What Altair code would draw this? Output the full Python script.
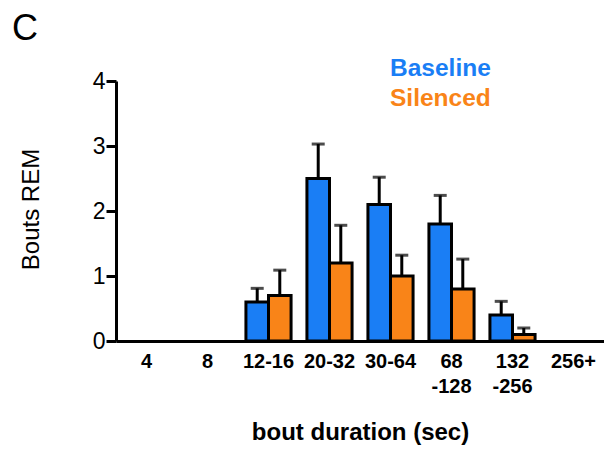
import altair as alt
import pandas as pd

categories = ["4", "8", "12-16", "20-32", "30-64", "68\n-128", "132\n-256", "256+"]
bar_categories = ["12-16", "20-32", "30-64", "68\n-128", "132\n-256"]
groups = ["Baseline", "Silenced"]
baseline_mean = [0.6, 2.5, 2.1, 1.8, 0.4]
baseline_sem = [0.21, 0.53, 0.42, 0.44, 0.21]
silenced_mean = [0.7, 1.2, 1.0, 0.8, 0.1]
silenced_sem = [0.39, 0.58, 0.32, 0.46, 0.1]
colors = ["#1a7ef5", "#f98418"]

rows = []
for c, m, s in zip(bar_categories, baseline_mean, baseline_sem):
    rows.append({"cat": c, "group": "Baseline", "mean": m, "top": m + s})
for c, m, s in zip(bar_categories, silenced_mean, silenced_sem):
    rows.append({"cat": c, "group": "Silenced", "mean": m, "top": m + s})
df = pd.DataFrame(rows)

x_enc = alt.X(
    "cat:N",
    sort=categories,
    scale=alt.Scale(domain=categories, paddingInner=0.26, paddingOuter=0.13),
    axis=alt.Axis(
        title="bout duration (sec)",
        labelExpr="split(datum.label, '\\n')",
        labelAngle=0,
        labelAlign="center",
        labelFlush=False,
        labelFont="Liberation Sans",
        labelFontWeight="bold",
        labelFontSize=20,
        labelLineHeight=25,
        labelColor="black",
        labelPadding=10,
        labelBaseline="top",
        ticks=False,
        tickSize=0,
        domainColor="black",
        domainWidth=3,
        titleFont="Liberation Sans",
        titleFontSize=24,
        titleFontWeight="bold",
        titleColor="black",
        titleBaseline="middle",
        titleY=91,
        titleX=244,
        labelOverlap=False,
        labelBound=False,
    ),
)
xoff = alt.XOffset("group:N", sort=groups, scale=alt.Scale(domain=groups))
y_enc = alt.Y(
    "mean:Q",
    scale=alt.Scale(domain=[0, 4], nice=False),
    axis=alt.Axis(
        title="Bouts REM",
        values=[0, 1, 2, 3, 4],
        format="d",
        grid=False,
        labelFont="Liberation Sans",
        labelFontSize=23,
        labelColor="black",
        labelPadding=1,
        tickSize=10,
        tickWidth=3,
        tickColor="black",
        domainColor="black",
        domainWidth=3,
        titleFont="Liberation Sans",
        titleFontSize=24,
        titleFontWeight="normal",
        titleColor="black",
        titleAngle=-90,
        titleBaseline="middle",
        titleX=-85,
        titleY=128,
    ),
)

bars = alt.Chart(df).mark_bar(stroke="black", strokeWidth=3).encode(
    x=x_enc,
    xOffset=xoff,
    y=y_enc,
    color=alt.Color("group:N", scale=alt.Scale(domain=groups, range=colors), legend=None),
)
rules = alt.Chart(df).mark_rule(color="black", strokeWidth=3).encode(
    x=alt.X("cat:N", sort=categories),
    xOffset=xoff,
    y=alt.Y("mean:Q"),
    y2="top:Q",
)
caps = alt.Chart(df).mark_tick(color="black", thickness=3, size=13, orient="horizontal").encode(
    x=alt.X("cat:N", sort=categories),
    xOffset=xoff,
    y=alt.Y("top:Q"),
)

legend_base = alt.Chart(pd.DataFrame({"t": [groups[0]]})).mark_text(
    font="Liberation Sans", fontSize=24.5, fontWeight="bold", align="left", baseline="middle", color=colors[0]
).encode(text="t:N", x=alt.value(274), y=alt.value(-12))
legend_sil = alt.Chart(pd.DataFrame({"t": [groups[1]]})).mark_text(
    font="Liberation Sans", fontSize=24.5, fontWeight="bold", align="left", baseline="middle", color=colors[1]
).encode(text="t:N", x=alt.value(274), y=alt.value(18))
panel = alt.Chart(pd.DataFrame({"t": ["C"]})).mark_text(
    font="Liberation Sans", fontSize=36, align="center", baseline="middle", color="black"
).encode(text="t:N", x=alt.value(-91), y=alt.value(-52))

chart = alt.layer(bars, rules, caps, legend_base, legend_sil, panel).properties(
    width=488,
    height=260,
    autosize=alt.AutoSizeParams(type="none"),
    padding={"left": 116, "top": 81, "right": 0, "bottom": 110},
    background="white",
).configure_view(stroke=None)

chart.save("out.html", embed_options={"renderer": "svg", "actions": False})
